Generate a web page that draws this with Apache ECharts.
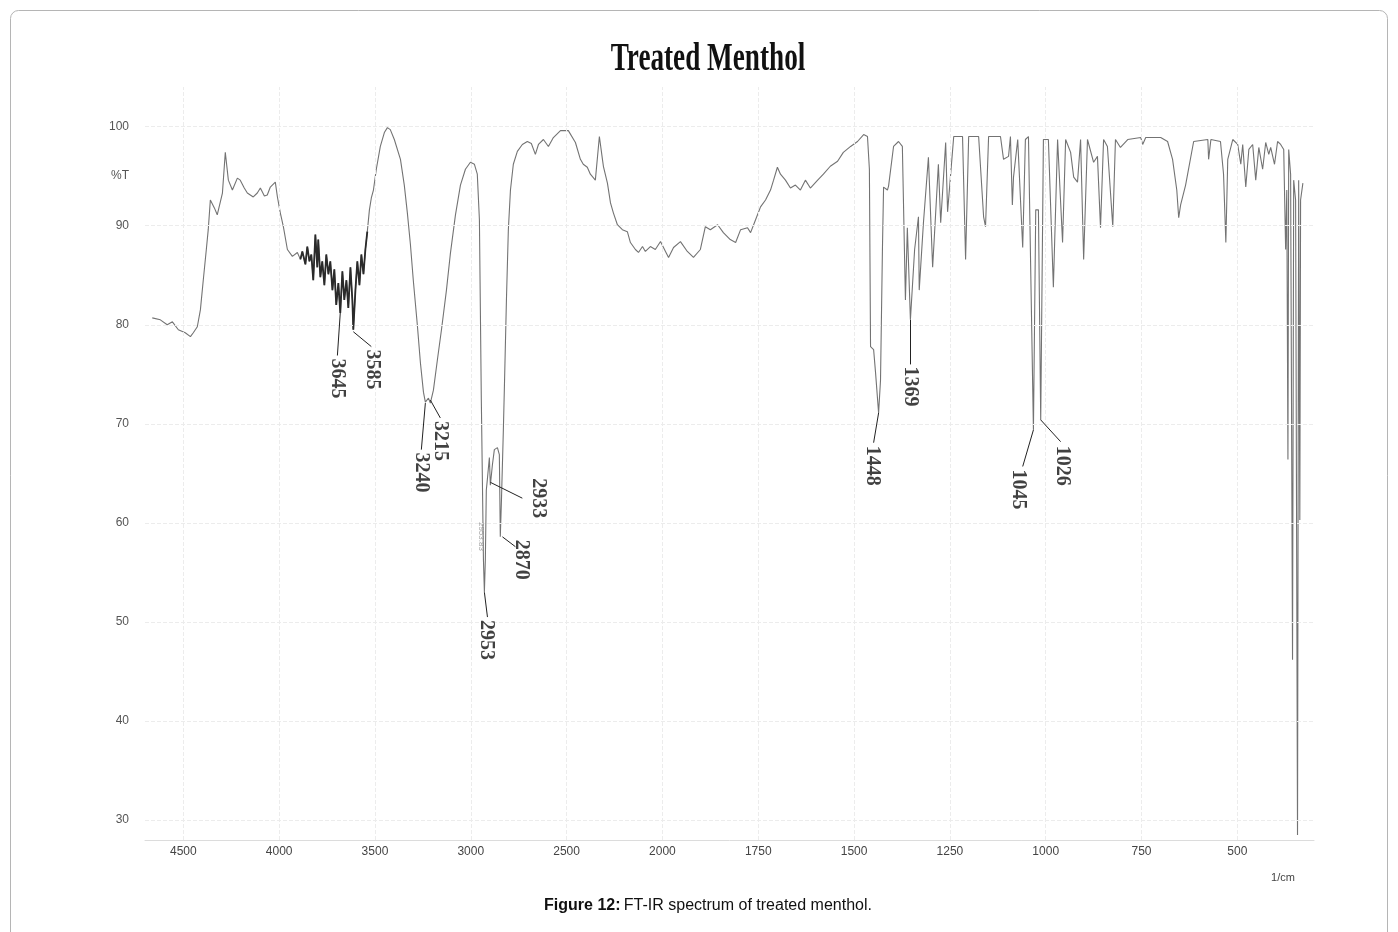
<!DOCTYPE html>
<html><head><meta charset="utf-8">
<script src="https://cdn.jsdelivr.net/npm/echarts@6/dist/echarts.min.js"></script>
<style>html,body{margin:0;padding:0;background:#fff}#c{width:1398px;height:932px}</style>
</head><body><div id="c"></div>
<script>
// Spectrum (wavenumber in 1/cm, %T)
const wavenumber = [
4662,4620,4584,4557,4526,4490,4463,4448,4427,4411,4396,4380,4370,4359,4338,4323,4296,4281,4265,4244,4218,4203,4182,4166,4135,4114,4098,4077,4062,4046,4036,4020,4009,3994,3978,3957,3931,3905,
3889,3879,3863,3853,3842,3832,3822,3811,3801,3796,3785,3775,3764,3754,3743,3733,3722,3712,3702,3691,3681,3670,3660,3649,3639,3628,3618,3613,3602,3592,3581,3571,3560,3550,3540,3529,3519,3508,
3493,3472,3451,3435,3420,3399,3367,3347,3331,3315,3300,3279,3263,3247,3237,3221,3211,3195,3174,3153,3127,3107,3080,3054,3028,3002,2981,2966,2955,2945,2934,2929,2924,2919,
2914,2903,2898,2887,2877,2861,2851,2846,2840,2830,2825,2814,2804,2793,2778,2757,2731,2705,2684,2663,2647,2621,2595,2569,2532,2491,
2454,2428,2413,2392,2376,2350,2329,2313,2308,2287,2271,2256,2235,2209,2183,2167,2141,2125,2104,2089,2063,2037,2010,
1992,1984,1971,1953,1935,1919,1901,1888,1875,1856,1841,1823,1809,1796,1778,1770,1757,1744,1731,1718,1710,1700,1692,1679,1666,1653,1640,1627,1614,1595,1580,1562,1543,1528,1509,1491,1475,1465,
1460,1457,1449,1444,1436,1431,1426,1423,1413,1410,1397,1384,1374,1366,1361,1358,1353,1342,1332,1330,1319,1306,1295,1280,1274,1261,1256,1240,1217,1209,1201,1175,1162,1157,1149,1118,1110,1097,1092,1087,1084,1073,1060,1053,1045,
1032,1026,1019,1013,1006,993,980,969,956,948,935,927,917,909,901,891,875,865,857,849,839,825,818,805,786,752,747,739,700,682,669,658,653,648,635,614,577,575,569,544,536,530,525,512,
499,491,486,478,470,460,452,444,434,426,418,413,403,395,387,379,374,371,368,366,361,356,353,348,343,340,337,335,329
];
const transmittance = [
80.7,80.5,80.0,80.3,79.5,79.2,78.8,79.2,79.8,81.5,84.5,87.6,89.6,92.6,91.8,91.1,93.3,97.4,94.6,93.6,94.8,94.6,93.8,93.3,92.9,93.3,93.8,93.0,93.1,93.9,94.1,94.4,92.9,91.3,89.9,87.6,86.9,87.3,
86.6,87.4,86.1,87.9,86.4,87.1,84.5,89.1,85.8,88.6,84.8,86.4,84.0,87.1,85.1,86.4,83.5,85.6,82.0,84.2,81.2,85.4,82.5,84.5,81.7,85.8,82.5,79.5,83.5,86.4,84.0,87.1,85.1,87.6,89.4,91.6,92.8,93.6,
95.7,98.0,99.4,99.9,99.7,98.7,96.7,94.1,91.3,88.1,84.5,80.0,76.2,73.2,72.2,72.6,72.1,73.4,76.5,79.5,83.5,87.1,91.1,94.1,95.7,96.4,96.2,95.2,90.6,72.4,56.3,53.0,56.3,63.3,
64.3,66.6,63.8,65.9,67.4,67.6,66.9,58.6,62.3,69.4,73.4,82.5,89.6,93.6,96.2,97.5,98.2,98.5,98.3,97.2,98.2,98.7,98.0,98.9,99.6,99.6,
98.4,96.7,96.2,95.9,95.2,94.6,99.0,96.7,96.0,94.3,92.3,91.3,90.1,89.6,89.4,88.3,87.6,87.3,87.9,87.4,87.9,87.6,88.4,
87.4,86.8,87.8,88.4,87.4,86.8,87.6,89.9,89.6,90.1,89.3,88.6,88.3,89.6,89.8,89.3,90.6,91.9,92.6,93.6,94.6,95.9,95.2,94.6,93.8,94.1,93.6,94.6,93.8,94.6,95.2,96.0,96.5,97.4,98.0,98.5,99.2,99.0,
95.7,77.8,77.5,75.2,71.1,74.4,87.6,93.9,93.6,94.0,98.0,98.5,98.0,82.5,89.8,89.6,80.5,87.6,90.9,83.5,90.3,96.9,85.8,96.2,90.3,98.4,91.4,99.0,99.0,86.6,99.0,99.0,90.9,89.9,99.0,99.0,96.7,97.0,99.0,92.1,94.9,98.7,87.8,98.7,99.0,
69.4,91.6,91.6,70.4,98.7,98.7,83.8,98.7,88.3,98.7,97.4,94.9,94.4,98.7,86.6,98.7,96.4,97.0,89.8,98.7,98.0,89.9,98.7,97.9,98.7,98.9,98.2,98.9,98.9,98.5,96.7,93.6,90.8,92.1,94.1,98.5,98.7,96.7,98.7,98.5,95.2,88.3,96.7,98.7,
98.2,96.2,98.2,93.9,97.7,98.2,94.6,97.9,95.7,98.4,97.2,97.9,96.2,98.5,98.2,97.7,87.6,93.6,66.4,97.7,95.2,46.2,94.6,92.6,28.5,94.6,60.3,92.6,94.3
];
const xTickLabels = [4500,4000,3500,3000,2500,2000,1750,1500,1250,1000,750,500];
const yTickValues = [30,40,50,60,70,80,90,100];
const yUnitLabel = '%T';
const yUnitValue = 95;
// dense noisy band drawn darker in the picture
const noisyBand = [3900, 3540];
// peak annotations
const peakLabels = ['3645','3585','3240','3215','2953','2933','2870','1448','1369','1045','1026'];
const peakWn   = [3681,3613,3237,3211,2929,2898,2835,1436,1353,1032,1013];
const peakT    = [81.2,79.3,72.1,72.4,53.0,64.1,58.6,71.1,80.5,69.4,70.4];
const leaderWn = [3696,3519,3258,3159,2913,2731,2767,1449,1353,1060,961];
const leaderT  = [76.9,77.8,67.4,70.6,50.5,62.5,57.6,68.1,76.0,65.7,68.2];
const textWn   = [3696,3514,3258,3159,2919,2647,2736,1452,1353,1071,956];
const textT    = [76.6,77.5,67.1,70.3,50.2,64.5,58.3,67.8,75.8,65.4,67.8];
const smallNote = ['2953.83'];
const smallNoteWn = [2945];
const smallNoteT = [60.1];

// axis scale changes at 2000 1/cm (500 per division above, 250 per division below)
function toU(w){ return w >= 2000 ? (4500 - w) / 500 : 5 + (2000 - w) / 250; }

const lineData = wavenumber.map((w, i) => [toU(w), transmittance[i]]);
const noisyData = [];
wavenumber.forEach((w, i) => { if (w <= noisyBand[0] && w >= noisyBand[1]) noisyData.push([toU(w), transmittance[i]]); });
const gridStyle = {color:'#ececec', type:'dashed', width:1};
const leaderStyle = {color:'#222', type:'solid', width:1};
const markData = [];
yTickValues.forEach(v => markData.push({yAxis: v, lineStyle: gridStyle}));
xTickLabels.forEach(w => markData.push({xAxis: toU(w), lineStyle: gridStyle}));
peakLabels.forEach((l, i) => markData.push([
  {coord:[toU(peakWn[i]), peakT[i]], lineStyle: leaderStyle},
  {coord:[toU(leaderWn[i]), leaderT[i]], lineStyle: leaderStyle}
]));

const chart = echarts.init(document.getElementById('c'), null, {renderer:'canvas'});
chart.setOption({
  animation:false,
  backgroundColor:'#fff',
  grid:{left:145, right:84, top:87, bottom:92, containLabel:false},
  xAxis:{
    type:'value', min:-0.4, max:11.8, interval:0.2,
    axisLine:{show:true, lineStyle:{color:'#dcdcdc'}},
    axisTick:{show:false}, splitLine:{show:false},
    axisLabel:{
      interval:0, margin:6, color:'#444', fontSize:12, fontFamily:'Liberation Sans',
      formatter: function(v){
        for (const w of xTickLabels){ if (Math.abs(toU(w) - v) < 1e-6) return String(w); }
        return '';
      }
    }
  },
  yAxis:{
    type:'value', min:28, max:104, interval:1,
    axisLine:{show:false}, axisTick:{show:false}, splitLine:{show:false},
    axisLabel:{
      interval:0, margin:16, color:'#555', fontSize:12, fontFamily:'Liberation Sans',
      formatter: function(v){
        if (yTickValues.indexOf(Math.round(v)) >= 0 && Math.abs(v - Math.round(v)) < 1e-6) return String(Math.round(v));
        if (Math.abs(v - yUnitValue) < 1e-6) return yUnitLabel;
        return '';
      }
    }
  },
  graphic:[
    {type:'rect', shape:{x:10.5, y:10.5, width:1377, height:940, r:8}, style:{fill:'none', stroke:'#b5b5b5', lineWidth:1}, silent:true, z:-10},
    {type:'text', x:708, y:60, scaleX:0.68, style:{text:'Treated Menthol', font:'bold 40px "Liberation Serif"', fill:'#111', align:'center', verticalAlign:'middle'}},
    {type:'text', x:1283, y:878, style:{text:'1/cm', font:'11px "Liberation Sans"', fill:'#444', align:'center', verticalAlign:'middle'}},
    {type:'text', x:708, y:906, style:{
      text:'{b|Figure 12:} {n|FT-IR spectrum of treated menthol.}', align:'center', verticalAlign:'middle',
      rich:{b:{font:'bold 16px "Liberation Sans"', fill:'#111'}, n:{font:'16px "Liberation Sans"', fill:'#111'}}
    }}
  ],
  series:[
    {
      type:'line', data:lineData, showSymbol:false, symbol:'none', z:3,
      lineStyle:{color:'#737373', width:1.1},
      markLine:{silent:true, symbol:['none','none'], label:{show:false}, animation:false, data:markData}
    },
    {
      type:'line', data:noisyData, showSymbol:false, symbol:'none', z:4,
      lineStyle:{color:'#2a2a2a', width:1.8}
    },
    {
      type:'scatter', symbolSize:0, z:5,
      data: peakLabels.map((l, i) => [toU(textWn[i]), textT[i], l]),
      label:{show:true, position:'inside', rotate:-90, align:'left', verticalAlign:'middle',
        formatter: p => p.data[2], fontFamily:'Liberation Serif', fontWeight:'bold', fontSize:20, color:'#111'}
    },
    {
      type:'scatter', symbolSize:0, z:5,
      data: smallNote.map((l, i) => [toU(smallNoteWn[i]), smallNoteT[i], l]),
      label:{show:true, position:'inside', rotate:-90, align:'left', verticalAlign:'middle',
        formatter: p => p.data[2], fontFamily:'Liberation Sans', fontSize:8, color:'#888'}
    }
  ]
});
</script></body></html>
